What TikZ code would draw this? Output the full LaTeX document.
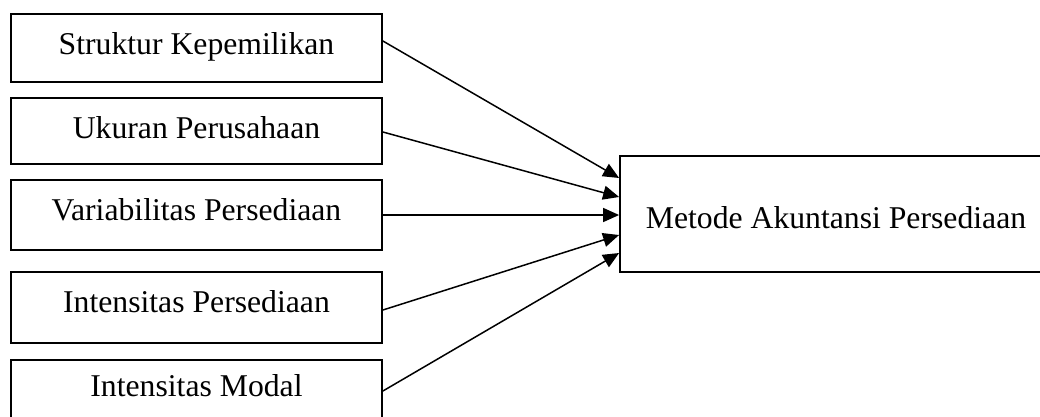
\documentclass[tikz,border=0pt]{standalone}
\usepackage{fontspec}
\setmainfont{Liberation Serif}
\usetikzlibrary{arrows.meta,calc}
\begin{document}
\begin{tikzpicture}[x=1pt,y=-1pt,
  varbox/.style={draw=black,line width=1.8pt,inner sep=0pt,
    minimum width=371pt,align=center,anchor=base,
    font=\fontsize{31.7}{38}\selectfont},
  resbox/.style={draw=black,line width=1.8pt,inner sep=0pt,
    minimum width=432pt,align=center,anchor=base,
    font=\fontsize{31.7}{38}\selectfont},
  link/.style={line width=1.5pt,-{Triangle[length=16pt,width=14pt]}}]
\useasboundingbox[clip] (0,0) rectangle (1040,416);
\fill[white] (0,0) rectangle (1040,416);
% independent variables
\node[varbox,text height=40pt,text depth=28pt] (b1) at (196.5,54) {Struktur Kepemilikan};
\node[varbox,text height=40pt,text depth=26pt] (b2) at (196.5,138) {Ukuran Perusahaan};
\node[varbox,text height=40pt,text depth=30pt] (b3) at (196.5,220) {Variabilitas Persediaan};
\node[varbox,text height=40pt,text depth=31pt] (b4) at (196.5,312) {Intensitas Persediaan};
\node[varbox,text height=36pt,text depth=30pt] (b5) at (196.5,396) {Intensitas Modal};
% dependent variable
\node[resbox,text height=72pt,text depth=44pt] (m) at (836,228) {Metode Akuntansi Persediaan};
% influences
\draw[link] ($(b1.east)+(0,-7)$) -- ($(m.west)+(0,-36)$);
\draw[link] ($(b2.east)+(0,1)$) -- ($(m.west)+(0,-17)$);
\draw[link] (b3.east) -- ($(m.west)+(0,1)$);
\draw[link] ($(b4.east)+(0,2.5)$) -- ($(m.west)+(0,21)$);
\draw[link] ($(b5.east)+(0,-2)$) -- ($(m.west)+(0,39)$);
\end{tikzpicture}
\end{document}
